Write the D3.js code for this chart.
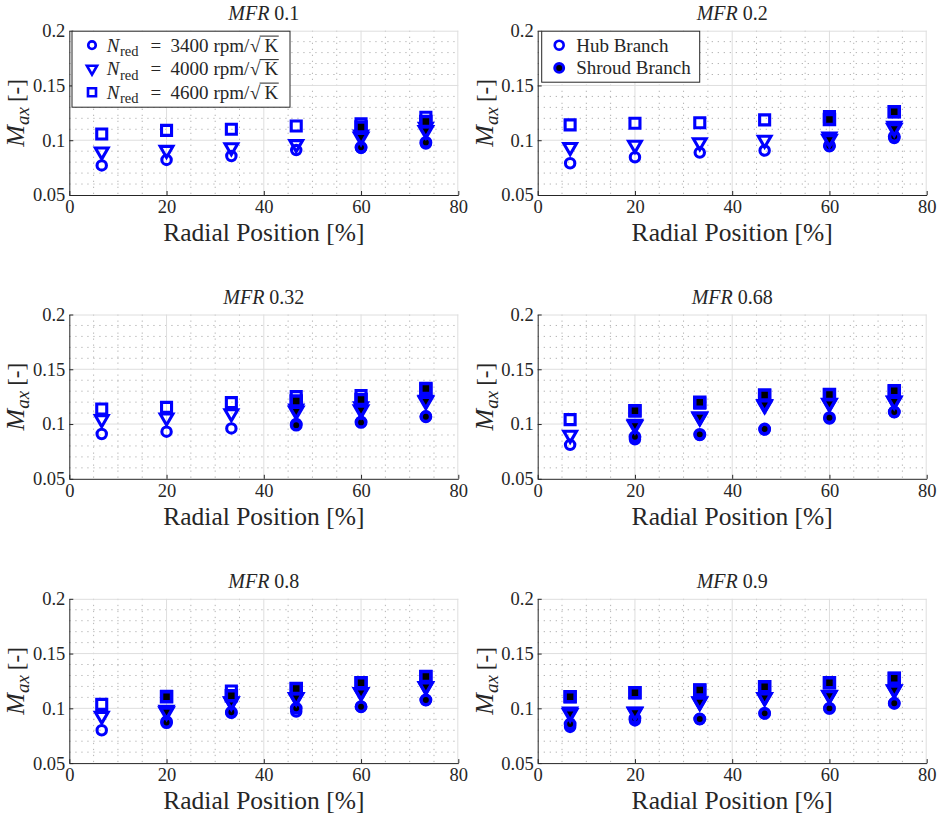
<!DOCTYPE html>
<html><head><meta charset="utf-8">
<script src="https://cdn.jsdelivr.net/npm/d3@7"></script>
<style>
body{margin:0;background:#fff}
svg{display:block}
text{font-family:"Liberation Serif","Times New Roman",serif;fill:#262626}
</style>
</head><body>
<svg id="chart" width="943" height="818"></svg>
<script>
// Radial measurement positions [%] and panel mass-flow ratios
const positions = [6.67, 20, 33.33, 46.67, 60, 73.33];
const mfrValues = ["0.1", "0.2", "0.32", "0.68", "0.8", "0.9"];
const speeds = ["3400", "4000", "4600"];
const xTicks = [0, 20, 40, 60, 80];
const yTicks = [0.05, 0.1, 0.15, 0.2];
const branchNames = ["Hub Branch", "Shroud Branch"];

// Hub branch Mach number, one row per MFR panel
const hub3400 = [
  [0.077, 0.082, 0.0856, 0.091, 0.093, 0.097],
  [0.079, 0.0845, 0.0887, 0.0906, 0.095, 0.102],
  [0.0909, 0.093, 0.096, 0.100, 0.102, 0.107],
  [0.081, 0.086, 0.090, 0.095, 0.105, 0.111],
  [0.080, 0.088, 0.096, 0.097, 0.1015, 0.1076],
  [0.083, 0.089, 0.0903, 0.0954, 0.100, 0.1046]
];
const hub4000 = [
  [0.0895, 0.091, 0.0935, 0.0963, 0.105, 0.112],
  [0.0936, 0.0957, 0.098, 0.1003, 0.1033, 0.113],
  [0.1043, 0.1058, 0.1097, 0.114, 0.116, 0.122],
  [0.090, 0.100, 0.106, 0.117, 0.119, 0.121],
  [0.093, 0.0985, 0.106, 0.110, 0.1146, 0.120],
  [0.097, 0.097, 0.106, 0.110, 0.112, 0.117]
];
const hub4600 = [
  [0.1057, 0.109, 0.110, 0.113, 0.115, 0.121],
  [0.114, 0.1155, 0.116, 0.1186, 0.1216, 0.126],
  [0.1137, 0.1152, 0.1195, 0.125, 0.126, 0.132],
  [0.104, 0.112, 0.119, 0.126, 0.127, 0.130],
  [0.1036, 0.111, 0.1158, 0.118, 0.1234, 0.129],
  [0.1106, 0.1143, 0.1167, 0.1198, 0.1234, 0.1274]
];

// Shroud branch Mach number (null where no measurement exists)
const shroud3400 = [
  [null, null, null, null, 0.0935, 0.098],
  [null, null, null, null, 0.0948, 0.1033],
  [null, null, null, 0.099, 0.1015, 0.1067],
  [null, 0.0884, 0.0906, 0.0954, 0.1058, 0.111],
  [null, 0.087, 0.0964, 0.100, 0.1015, 0.1076],
  [0.0857, 0.091, 0.0903, 0.0954, 0.100, 0.1046]
];
const shroud4000 = [
  [null, null, null, null, 0.103, 0.109],
  [null, null, null, null, 0.101, 0.111],
  [null, null, null, 0.1119, 0.113, 0.121],
  [null, 0.099, 0.1067, 0.118, 0.119, 0.121],
  [null, 0.097, 0.106, 0.110, 0.1146, 0.120],
  [0.0954, 0.0964, 0.106, 0.110, 0.112, 0.117]
];
const shroud4600 = [
  [null, null, null, null, 0.112, 0.117],
  [null, null, null, null, 0.119, 0.126],
  [null, null, null, 0.121, 0.1225, 0.1325],
  [null, 0.1122, 0.1198, 0.1264, 0.127, 0.1304],
  [null, 0.1106, 0.1116, 0.118, 0.1234, 0.129],
  [0.1106, 0.1143, 0.1167, 0.1198, 0.1234, 0.1274]
];

const hubSeries = [hub3400, hub4000, hub4600];
const shroudSeries = [shroud3400, shroud4000, shroud4600];

const BLUE = "#0000ff";
const AXIS = "#262626";
const plotW = 389, plotH = 164.3;
const colLeft = [69.3, 537.7];
const rowTop = [30.7, 314.5, 598.8];

// marker geometry per speed: circle, downward triangle, square
const shapes = [d3.symbolCircle, d3.symbolTriangle, d3.symbolSquare];
const sizes = [Math.PI * 4.7 * 4.7, 70, 100];
const rotations = [0, 180, 0];

const svg = d3.select("#chart");

function marker(sel, k, scale, filled) {
  sel.attr("d", d3.symbol().type(shapes[k]).size(sizes[k] * scale * scale)())
    .attr("fill", filled ? "#000" : "none")
    .attr("stroke", BLUE)
    .attr("stroke-width", (filled ? 3.5 : 3.1) * (scale < 1 ? 0.85 : 1))
    .attr("stroke-linejoin", "miter")
    .attr("stroke-miterlimit", 10);
}

mfrValues.forEach((mfr, i) => {
  const left = colLeft[i % 2], top = rowTop[Math.floor(i / 2)];
  const g = svg.append("g").attr("transform", `translate(${left},${top})`);
  const x = d3.scaleLinear().domain([0, 80]).range([0, plotW]);
  const y = d3.scaleLinear().domain([0.05, 0.2]).range([plotH, 0]);

  // minor grid (dotted)
  const xMinor = d3.range(5, 80, 5).filter(v => v % 20 !== 0);
  const yMinor = d3.range(6, 20).map(v => v / 100).filter(v => Math.abs(v * 20 - Math.round(v * 20)) > 1e-6);
  const minor = g.append("g").attr("stroke", "#b4b4b4").attr("stroke-width", 1).attr("stroke-dasharray", "1.3,4.7");
  minor.selectAll("line.vx").data(xMinor).join("line").attr("class", "vx")
    .attr("x1", d => x(d)).attr("x2", d => x(d)).attr("y1", 0).attr("y2", plotH);
  minor.selectAll("line.hy").data(yMinor).join("line").attr("class", "hy")
    .attr("x1", 0).attr("x2", plotW).attr("y1", d => y(d)).attr("y2", d => y(d));

  // major grid (solid)
  const major = g.append("g").attr("stroke", "#dedede").attr("stroke-width", 1);
  major.selectAll("line.vx").data(xTicks.slice(1, -1)).join("line").attr("class", "vx")
    .attr("x1", d => x(d)).attr("x2", d => x(d)).attr("y1", 0).attr("y2", plotH);
  major.selectAll("line.hy").data(yTicks.slice(1, -1)).join("line").attr("class", "hy")
    .attr("x1", 0).attr("x2", plotW).attr("y1", d => y(d)).attr("y2", d => y(d));
  // light frame on top and right
  major.append("line").attr("x1", 0).attr("x2", plotW).attr("y1", 0.5).attr("y2", 0.5);
  major.append("line").attr("x1", plotW - 0.5).attr("x2", plotW - 0.5).attr("y1", 0).attr("y2", plotH);

  // axes
  const xAxis = g.append("g").attr("transform", `translate(0,${plotH})`)
    .call(d3.axisBottom(x).tickValues(xTicks).tickFormat(d => String(d)).tickSizeInner(-4).tickSizeOuter(0).tickPadding(5));
  const yAxis = g.append("g")
    .call(d3.axisLeft(y).tickValues(yTicks).tickFormat(d => String(d)).tickSizeInner(-4).tickSizeOuter(0).tickPadding(4));
  [xAxis, yAxis].forEach(a => {
    a.attr("font-family", null).attr("font-size", null);
    a.selectAll("path.domain").attr("stroke", AXIS);
    a.selectAll(".tick line").attr("stroke", AXIS);
    a.selectAll(".tick text").attr("fill", AXIS).style("font-size", "18.5px");
  });

  // markers: hub (open) first, shroud (filled) on top
  [0, 1].forEach(branch => {
    const series = branch === 0 ? hubSeries : shroudSeries;
    series.forEach((arr, k) => {
      const pts = positions.map((p, j) => ({ p, v: arr[i][j] })).filter(d => d.v != null);
      g.append("g").selectAll("path").data(pts).join("path")
        .call(marker, k, 1, branch === 1)
        .attr("transform", d => `translate(${x(d.p)},${y(d.v)}) rotate(${rotations[k]})`);
    });
  });

  // title
  const t = g.append("text").attr("x", plotW / 2).attr("y", -10.5)
    .attr("text-anchor", "middle").style("font-size", "20px");
  t.append("tspan").attr("font-style", "italic").text("MFR");
  t.append("tspan").text(" " + mfr);

  // x label
  g.append("text").attr("x", plotW / 2).attr("y", plotH + 46)
    .attr("text-anchor", "middle").style("font-size", "25.5px").text("Radial Position [%]");

  // y label
  const yl = g.append("text").attr("transform", `translate(-45,${plotH / 2}) rotate(-90)`)
    .attr("text-anchor", "middle").style("font-size", "26px");
  yl.append("tspan").attr("font-style", "italic").text("M");
  yl.append("tspan").attr("font-style", "italic").attr("dy", 5).style("font-size", "19px").text("ax");
  yl.append("tspan").attr("dy", -5).attr("dx", 5).style("font-size", "23px").text("[-]");

  // legends
  if (i === 0) {
    const lg = g.append("g").attr("transform", "translate(2.7,0.5)");
    lg.append("rect").attr("width", 218).attr("height", 76)
      .attr("fill", "#fff").attr("stroke", AXIS).attr("stroke-width", 1);
    speeds.forEach((s, k) => {
      const cy = 14 + k * 23.5;
      const by = cy + 6.5;
      lg.append("path").call(marker, k, 0.8, false)
        .attr("transform", `translate(20,${cy}) rotate(${rotations[k]})`);
      const tx = lg.append("text").attr("y", by).style("font-size", "19px");
      tx.append("tspan").attr("x", 34.7).attr("font-style", "italic").text("N");
      tx.append("tspan").attr("x", 48).attr("dy", 4.5).style("font-size", "14.5px").text("red");
      tx.append("tspan").attr("x", 78.5).attr("dy", -4.5).text("=");
      tx.append("tspan").attr("x", 98.5).text(s);
      tx.append("tspan").attr("x", 141.5).text("rpm/");
      tx.append("tspan").attr("x", 178).text("\u221A");
      tx.append("tspan").attr("x", 192.5).text("K");
      // overline of the square root
      const node = tx.node();
      const n = node.getNumberOfChars();
      const sx = node.getEndPositionOfChar(n - 2).x;
      const ex = node.getEndPositionOfChar(n - 1).x;
      lg.append("line").attr("x1", sx - 0.8).attr("x2", ex + 0.5)
        .attr("y1", by - 15.6).attr("y2", by - 15.6)
        .attr("stroke", AXIS).attr("stroke-width", 1);
    });
  }
  if (i === 1) {
    const lg = g.append("g").attr("transform", "translate(4,0.5)");
    lg.append("rect").attr("width", 158).attr("height", 51)
      .attr("fill", "#fff").attr("stroke", AXIS).attr("stroke-width", 1);
    branchNames.forEach((name, b) => {
      const cy = 14 + b * 22.7;
      lg.append("path").call(marker, 0, 0.95, b === 1)
        .attr("transform", `translate(17.5,${cy})`);
      lg.append("text").attr("x", 34.5).attr("y", cy + 6.5).style("font-size", "19px").text(name);
    });
  }
});
</script>
</body></html>
